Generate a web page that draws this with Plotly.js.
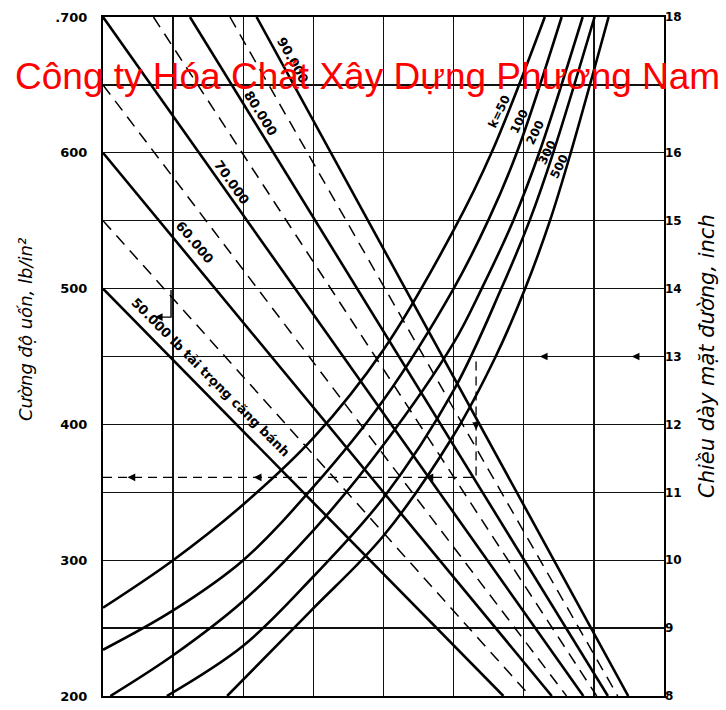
<!DOCTYPE html>
<html>
<head>
<meta charset="utf-8">
<script src="https://cdn.plot.ly/plotly-3.0.1.min.js"></script>
<style>html,body{margin:0;padding:0;background:#fff;}#chart{width:726px;height:710px;}</style>
</head>
<body>
<div id="chart"></div>
<script>
// ---- data (x: grid units 0..8, y: flexural strength lb/in^2) ----
const leftTickVals = [200,250,300,350,400,450,500,550,600,650,700];
const leftTickText = ['200','','300','','400','','500','','600','','.700'];
const rightTickVals = [8,9,10,11,12,13,14,15,16,17,18];
const rightTickText = ['8','9','10','11','12','13','14','15','16','','18'];

// wheel-load lines (solid)
const load50_x = [0, 5.71], load50_y = [500, 200];
const load60_x = [0, 6.40], load60_y = [600, 200];
const load70_x = [0, 6.85], load70_y = [700, 200];
const load80_x = [1.24, 7.20], load80_y = [700, 200];
const load90_x = [2.19, 7.49], load90_y = [700, 200];
// intermediate wheel-load lines (dashed)
const load55_x = [0, 6.09], load55_y = [550, 200];
const load65_x = [0, 6.61], load65_y = [650, 200];
const load75_x = [0.72, 7.04], load75_y = [700, 200];
const load85_x = [1.81, 7.34], load85_y = [700, 200];

// subgrade modulus curves
const k50_x  = [0, 1, 2, 3, 4, 5, 5.54, 6.30];
const k50_y  = [265, 300, 341, 390, 455, 543, 600, 700];
const k100_x = [0, 1, 2, 3, 4, 5, 5.5, 5.9, 6.54];
const k100_y = [234, 263, 300, 354, 418, 500, 551, 600, 700];
const k200_x = [0.105, 1, 2, 3, 4, 5, 5.4, 5.85, 6.22, 6.84];
const k200_y = [200, 230, 270, 322, 385, 460, 500, 550, 600, 700];
const k300_x = [0.91, 2, 3, 4, 5, 5.68, 6.09, 6.42, 7.01];
const k300_y = [200, 237, 288, 346, 425, 500, 551, 600, 700];
const k500_x = [1.77, 2.95, 4, 5, 5.6, 6.02, 6.38, 6.67, 7.21];
const k500_y = [200, 262, 318, 392, 450, 500, 551, 600, 700];

// worked example path (dashed)
const example_x = [0, 5.32, 5.32];
const example_y = [361, 361, 450];
const hook_x = [0.97, 0.97, 0.76];
const hook_y = [499, 479, 479];
// arrows: [x, y, direction]
const arrow_x = [0.35, 2.15, 4.60, 5.32, 6.23, 7.54, 0.74];
const arrow_y = [361, 361, 361, 396, 450, 450, 479];
const arrow_dir = ['left','left','left','down','left','left','left'];

// right axis range (inch)
const thick_x = [0, 8], thick_y = [8, 18];

// ---- layout helpers ----
const L = 103, T = 17, W = 561, H = 679;
const px = v => (v - L) / W;
const py = v => (T + H - v) / H;

const solid = (x, y) => ({x, y, mode:'lines', line:{color:'#000', width:2.6}, hoverinfo:'skip', showlegend:false});
const dashed = (x, y) => ({x, y, mode:'lines', line:{color:'#000', width:1.5, dash:'12px,8px'}, hoverinfo:'skip', showlegend:false});
const curve = (x, y) => ({x, y, mode:'lines', line:{color:'#000', width:2.6, shape:'spline', smoothing:1}, hoverinfo:'skip', showlegend:false});

const traces = [
  solid(load50_x, load50_y), solid(load60_x, load60_y), solid(load70_x, load70_y),
  solid(load80_x, load80_y), solid(load90_x, load90_y),
  dashed(load55_x, load55_y), dashed(load65_x, load65_y), dashed(load75_x, load75_y), dashed(load85_x, load85_y),
  curve(k50_x, k50_y), curve(k100_x, k100_y), curve(k200_x, k200_y), curve(k300_x, k300_y), curve(k500_x, k500_y),
  {x: example_x, y: example_y, mode:'lines', line:{color:'#000', width:1.3, dash:'9px,6px'}, hoverinfo:'skip', showlegend:false},
  {x: hook_x, y: hook_y, mode:'lines', line:{color:'#000', width:1.4}, hoverinfo:'skip', showlegend:false},
  {x: thick_x, y: thick_y, yaxis:'y2', mode:'lines', line:{width:0, color:'rgba(0,0,0,0)'}, hoverinfo:'skip', showlegend:false}
];

const labFont = {family:'DejaVu Sans', size:13, color:'#000', weight:'bold'};
const annotations = [];
function lab(text, cx, cy, ang, size) {
  annotations.push({text, xref:'paper', yref:'paper', x:px(cx), y:py(cy), xanchor:'center', yanchor:'middle',
    textangle:ang, showarrow:false, font:Object.assign({}, labFont, size ? {size} : {})});
}
lab('90.000', 293, 60, 61);
lab('80.000', 261, 113, 58);
lab('70.000', 232, 182, 55);
lab('60.000', 195, 242, 50);
lab('50.000 lb tải trọng căng bánh', 211, 377, 45);
lab('k=50', 499, 112, -64, 12);
lab('100', 519, 122, -64, 12);
lab('200', 535, 133, -64, 12);
lab('300', 547, 153, -64, 12);
lab('500', 559, 167, -64, 12);

arrow_x.forEach((x, i) => {
  const d = arrow_dir[i];
  annotations.push({x, y: arrow_y[i], xref:'x', yref:'y', text:'', showarrow:true,
    ax: d === 'left' ? 9 : 0, ay: d === 'down' ? -9 : 0, arrowhead:2, arrowsize:1.1, arrowwidth:1.4,
    arrowcolor:'#000', standoff:0});
});

// axis titles
annotations.push({text:'Cường độ uốn, lb/in²', xref:'paper', yref:'paper', x:px(25), y:py(330),
  xanchor:'center', yanchor:'middle', textangle:-90, showarrow:false,
  font:{family:'DejaVu Sans', size:18, style:'italic', color:'#000'}});
annotations.push({text:'Chiều dày mặt đường, inch', xref:'paper', yref:'paper', x:px(707), y:py(356),
  xanchor:'center', yanchor:'middle', textangle:-90, showarrow:false,
  font:{family:'DejaVu Sans', size:21, style:'italic', color:'#000'}});

// watermark
annotations.push({text:'Công ty Hóa Chất Xây Dựng Phương Nam', xref:'paper', yref:'paper', x:px(13), y:py(76),
  xanchor:'left', yanchor:'middle', showarrow:false,
  font:{family:'Liberation Sans', size:37, color:'#ff0000'}});

const layout = {
  width:726, height:710,
  margin:{l:L, r:726 - L - W, t:T, b:710 - T - H},
  paper_bgcolor:'#fff', plot_bgcolor:'#fff',
  showlegend:false,
  xaxis:{range:[0,8], dtick:1, tick0:0, showgrid:true, gridcolor:'#111', gridwidth:1.3,
    showline:true, linecolor:'#000', linewidth:2, mirror:true, showticklabels:false, ticks:'', zeroline:false, fixedrange:true},
  yaxis:{range:[200,700], tickmode:'array', tickvals:leftTickVals, ticktext:leftTickText,
    showgrid:true, gridcolor:'#111', gridwidth:1.3, showline:true, linecolor:'#000', linewidth:2, mirror:true,
    ticks:'outside', ticklen:11, tickcolor:'rgba(0,0,0,0)', zeroline:false,
    tickfont:{family:'DejaVu Sans', size:13, color:'#000', weight:'bold'}, fixedrange:true},
  yaxis2:{range:[8,18], overlaying:'y', side:'right', tickmode:'array', tickvals:rightTickVals, ticktext:rightTickText,
    showgrid:false, showline:false, zeroline:false, ticks:'',
    tickfont:{family:'DejaVu Sans', size:12, color:'#000', weight:'bold'}, fixedrange:true},
  annotations
};

Plotly.newPlot('chart', traces, layout, {staticPlot:true, displayModeBar:false});
</script>
</body>
</html>
